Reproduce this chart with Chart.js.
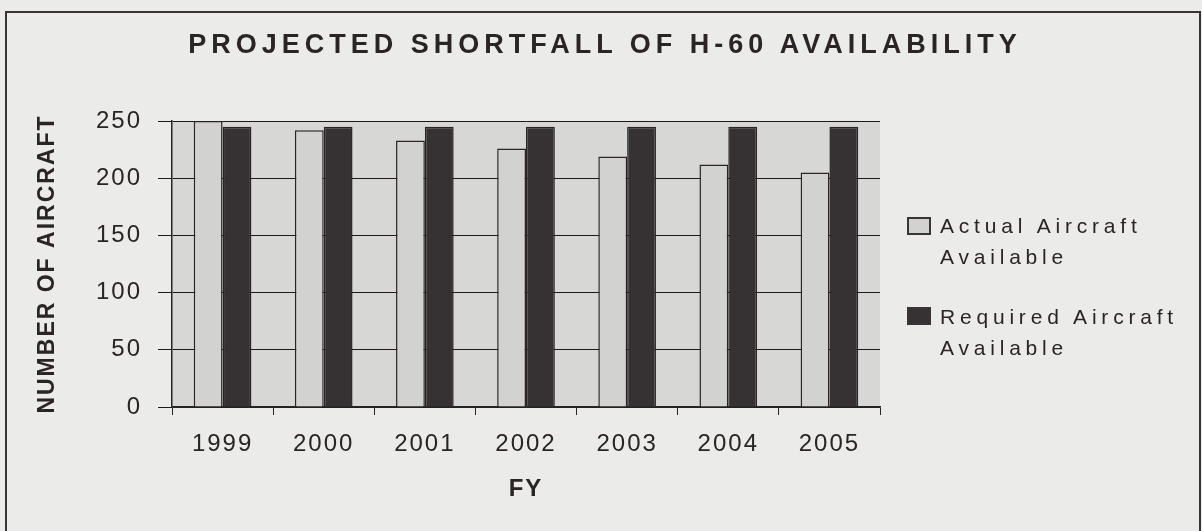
<!DOCTYPE html>
<html>
<head>
<meta charset="utf-8">
<script src="https://cdn.jsdelivr.net/npm/chart.js@4.4.1/dist/chart.umd.min.js"></script>
<style>
  html, body { margin: 0; padding: 0; background: #ebebe9; overflow: hidden; }
  #wrap { position: relative; width: 1202px; height: 531px; font-family: 'Liberation Sans', Arial, sans-serif; color: #2a2426; }
  #frame { position: absolute; left: 5px; top: 11px; width: 1192px; height: 560px; border: 2px solid #3a3436; }
  #chartBox { position: absolute; left: 0; top: 0; width: 1202px; height: 531px; }
  #title { position: absolute; left: 4px; width: 1202px; top: 29px; text-align: center; font-weight: bold; font-size: 27px; letter-spacing: 5px; }
  .leg-box { position: absolute; width: 20px; height: 14px; border: 2px solid #3a3436; }
  .leg-text { position: absolute; left: 940px; font-size: 21px; line-height: 31px; letter-spacing: 4.8px; white-space: nowrap; }
</style>
</head>
<body>
<div id="wrap">
  <div id="frame"></div>
  <div id="chartBox"><canvas id="c"></canvas></div>
  <div id="title">PROJECTED SHORTFALL OF H-60 AVAILABILITY</div>
  <div id="legend"></div>
</div>
<script>
const years = ['1999', '2000', '2001', '2002', '2003', '2004', '2005'];
const actualAvailable = [250, 242, 233, 226, 219, 212, 205];
const requiredAvailable = [245, 245, 245, 245, 245, 245, 245];
const seriesNames = [['Actual Aircraft', 'Available'], ['Required Aircraft', 'Available']];
const yMin = 0, yMax = 250, yStep = 50;

const ACTUAL_FILL = '#d2d2d0';
const REQUIRED_FILL = '#363234';
const INK = '#2a2426';

// legend is plain html, two-line labels
const legendTops = [210, 301];
const boxTops = [217, 307];
const fills = [ACTUAL_FILL, REQUIRED_FILL];
let legHtml = '';
seriesNames.forEach((lines, i) => {
  legHtml += `<div class="leg-box" style="left:907px;top:${boxTops[i]}px;background:${fills[i]}"></div>`;
  legHtml += `<div class="leg-text" style="top:${legendTops[i]}px">${lines.join('<br>')}</div>`;
});
document.getElementById('legend').innerHTML = legHtml;

const spacingPlugin = {
  id: 'spacing',
  beforeUpdate(chart) { chart.ctx.letterSpacing = '2px'; },
  beforeDraw(chart) { chart.ctx.letterSpacing = '2px'; }
};

const plotBg = {
  id: 'plotBg',
  beforeDraw(chart) {
    const { ctx, chartArea: a } = chart;
    ctx.save();
    ctx.fillStyle = '#d7d7d5';
    ctx.fillRect(a.left, a.top, a.right - a.left, a.bottom - a.top);
    ctx.restore();
  }
};

new Chart(document.getElementById('c'), {
  type: 'bar',
  data: {
    labels: years,
    datasets: [
      { label: seriesNames[0].join(' '), data: actualAvailable, backgroundColor: ACTUAL_FILL, borderColor: INK, borderWidth: 1.5 },
      { label: seriesNames[1].join(' '), data: requiredAvailable, backgroundColor: REQUIRED_FILL, borderColor: INK, borderWidth: 1.5 }
    ]
  },
  options: {
    responsive: true,
    maintainAspectRatio: false,
    animation: false,
    categoryPercentage: 0.57,
    barPercentage: 1,
    layout: { padding: { top: 121, right: 322, left: 0, bottom: 0 } },
    plugins: { legend: { display: false }, tooltip: { enabled: false }, title: { display: false } },
    scales: {
      x: {
        offset: true,
        grid: { offset: true, drawOnChartArea: false, tickLength: 8, color: INK },
        border: { display: true, color: INK, width: 1.5 },
        ticks: { color: INK, font: { family: "'Liberation Sans', Arial", size: 24 }, padding: 15 },
        title: { display: true, text: 'FY', color: INK, font: { family: "'Liberation Sans', Arial", size: 24, weight: 'bold' }, padding: { top: 0, bottom: 27 } },
        afterFit(scale) { scale.height = 124; }
      },
      y: {
        min: yMin,
        max: yMax,
        ticks: { stepSize: yStep, color: INK, font: { family: "'Liberation Sans', Arial", size: 24 }, padding: 16 },
        grid: { color: '#1e1a1c', lineWidth: 1, tickLength: 14 },
        border: { display: true, color: INK, width: 1.5 },
        title: { display: true, text: 'NUMBER OF AIRCRAFT', color: INK, font: { family: "'Liberation Sans', Arial", size: 23, weight: 'bold' }, padding: { top: 34, bottom: 0 } },
        afterFit(scale) { scale.width = 172; }
      }
    }
  },
  plugins: [spacingPlugin, plotBg]
});
</script>
</body>
</html>
